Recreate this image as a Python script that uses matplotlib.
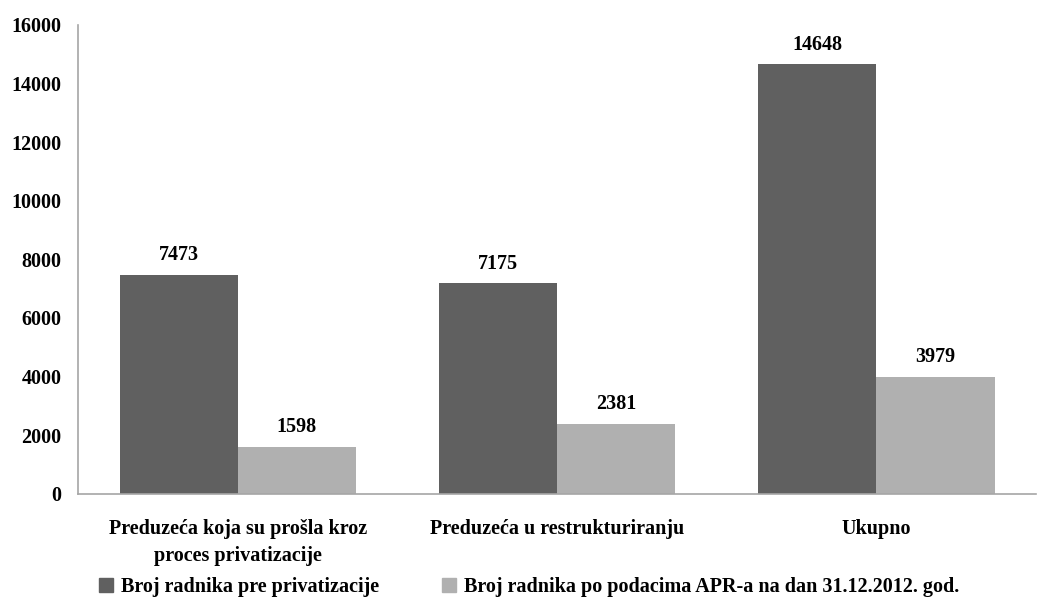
import numpy as np
import matplotlib.pyplot as plt
from matplotlib.patches import Patch

# Data
categories = ["Preduzeća koja su prošla kroz\nproces privatizacije",
              "Preduzeća u restrukturiranju",
              "Ukupno"]
before_priv = [7473, 7175, 14648]
apr_2012 = [1598, 2381, 3979]
series_names = ["Broj radnika pre privatizacije",
                "Broj radnika po podacima APR-a na dan 31.12.2012. god."]
yticks = np.arange(0, 16001, 2000)

plt.rcParams['font.family'] = ['Liberation Serif', 'DejaVu Serif']
plt.rcParams['font.weight'] = 'bold'

dark = '#606060'
light = '#b0b0b0'
spine_col = '#a6a6a6'
fs = 14.5

fig = plt.figure(figsize=(10.37, 6.03), dpi=100)
ax = fig.add_axes([0.0752, 0.181, 0.924, 0.778])

x = np.arange(len(categories))
w = 0.37
b1 = ax.bar(x - w/2, before_priv, w, color=dark)
b2 = ax.bar(x + w/2, apr_2012, w, color=light)
ax.bar_label(b1, padding=7, fontsize=fs, fontweight='bold')
ax.bar_label(b2, padding=7, fontsize=fs, fontweight='bold')

ax.set_xlim(-0.5, 2.5)
ax.set_ylim(0, 16000)
ax.set_yticks(yticks)
ax.set_xticks(x)
ax.set_xticklabels(categories, fontsize=fs, fontweight='bold', linespacing=1.45)
ax.tick_params(axis='y', labelsize=fs, length=0, pad=12)
ax.tick_params(axis='x', length=0, pad=18)
for lbl in ax.get_yticklabels():
    lbl.set_fontweight('bold')

for s in ['top', 'right']:
    ax.spines[s].set_visible(False)
ax.spines['left'].set_color(spine_col)
ax.spines['bottom'].set_color(spine_col)
ax.spines['left'].set_linewidth(1.2)
ax.spines['bottom'].set_linewidth(1.2)

handles = [Patch(color=dark), Patch(color=light)]
fig.legend(handles, series_names, loc='center left', bbox_to_anchor=(0.078, 0.027),
           ncol=2, frameon=False, prop={'weight': 'bold', 'size': fs},
           handlelength=0.7, handleheight=0.7, handletextpad=0.4, columnspacing=3.1)

fig.savefig('out.png', dpi=100)
